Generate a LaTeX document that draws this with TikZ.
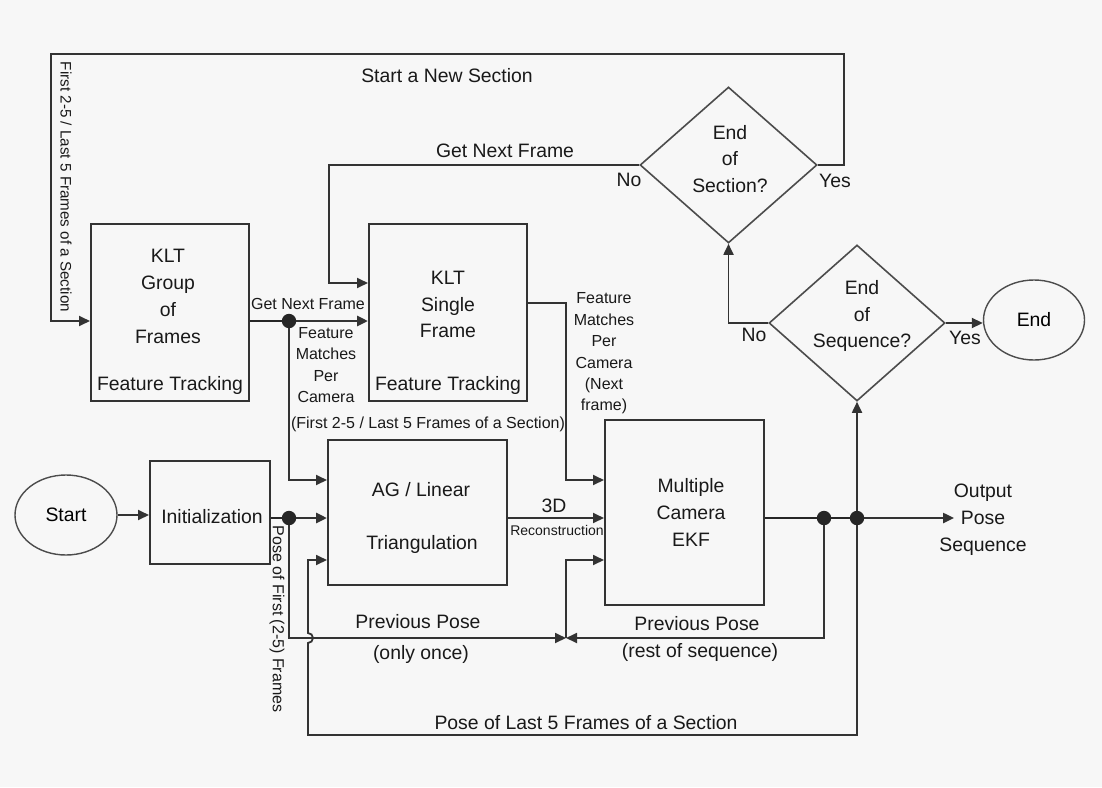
\documentclass[tikz,border=0pt]{standalone}
\usepackage{fontspec}
\setmainfont{Liberation Sans}
\usetikzlibrary{arrows.meta,positioning,shapes.geometric}
\newcommand{\mainfs}{\fontsize{9.7}{13.4}\selectfont}
\newcommand{\smallfs}{\fontsize{8}{10.6}\selectfont}
\newcommand{\tinyfs}{\fontsize{7}{8}\selectfont}
\tikzset{
  procbox/.style={draw=black!80, line width=1pt, rectangle, inner sep=0pt, fill=none},
  decision/.style={draw=black!70, line width=0.8pt, diamond, inner sep=0pt, fill=none},
  terminal/.style={draw=black!70, line width=0.7pt, ellipse, inner sep=0pt, font=\mainfs},
  txt/.style={inner sep=0pt, align=center, text=black!90, font=\mainfs},
  smalltxt/.style={inner sep=0pt, align=center, text=black!90, font=\smallfs},
  flow/.style={-{Triangle[length=5.5pt,width=5pt]}, line width=0.9pt, draw=black!80},
  mainline/.style={line width=1.4pt, draw=black!85}
}
\begin{document}
\begin{tikzpicture}[x=0.5pt, y=-0.5pt]
  \fill[black!3] (0,0) rectangle (1102,787);

  \node[procbox, minimum width=79pt, minimum height=88.5pt] (grp) at (170,312.5) {};
  \node[procbox, minimum width=79pt, minimum height=88.5pt] (sgl) at (448,312.5) {};
  \node[procbox, minimum width=60pt, minimum height=51.5pt] (ini) at (210,512.5) {};
  \node[procbox, minimum width=89.5pt, minimum height=72.5pt] (tri) at (417.5,512.5) {};
  \node[procbox, minimum width=79.5pt, minimum height=92.5pt] (ekf) at (684.5,512.5) {};
  \node[terminal, minimum width=51pt, minimum height=40pt] (start) at (66,515) {Start};
  \node[terminal, minimum width=50.5pt, minimum height=40pt] (endn) at (1034,320) {End};
  \node[decision, minimum width=88.5pt, minimum height=78pt] (secq) at (728.5,165) {};
  \node[decision, minimum width=88pt, minimum height=78pt] (seqq) at (857,323) {};

  \node[txt] (grp-t) at (168,296.5) {KLT\\Group\\of\\Frames};
  \node[txt] (grp-b) at (170,385) {Feature Tracking};
  \node[txt] (sgl-t) at (448,304.5) {KLT\\Single\\Frame};
  \node[txt] (sgl-b) at (448,385) {Feature Tracking};
  \node[txt] (ini-t) at (212,517) {Initialization};
  \node[txt] (tri-t) at (421,490) {AG / Linear};
  \node[txt] (tri-b) at (422,544) {Triangulation};
  \node[txt] (ekf-t) at (691,512.5) {Multiple\\Camera\\EKF};
  \node[txt] (secq-t) at (730,159) {End\\of\\Section?};
  \node[txt] (seqq-t) at (862,316) {End\\of\\Sequence?};
  \node[txt] (outp) at (983,520) {Output\\Pose\\Sequence};

  \coordinate (d1) at (289,321);
  \coordinate (d2) at (289,518);
  \coordinate (d3) at (824,518);
  \coordinate (d4) at (857,518);
  \coordinate (ctr) at (844,54);
  \coordinate (ctl) at (51,54);
  \coordinate (gnf) at (329,283);
  \coordinate (fmn) at (566,303);
  \coordinate (yfm) at (0,480);
  \coordinate (ypp) at (0,560);
  \coordinate (ppj) at (566,638);
  \coordinate (plb) at (308,735);
  \coordinate (hopb) at (308,643);
  \coordinate (outtip) at (954,518);

  \draw[flow] (secq.east) -| (ctr) -- (ctl) |- (grp.west |- d1);
  \draw[mainline] (grp.east |- d1) -- (d1);
  \draw[flow, line width=1.4pt] (d1) -- (sgl.west |- d1);
  \draw[flow] (secq.west) -| (gnf) -- (sgl.west |- gnf);
  \draw[flow] (d1) |- (tri.west |- yfm);
  \draw[flow] (sgl.east |- fmn) -- (fmn) |- (ekf.west |- yfm);
  \draw[flow] (start.east) -- (ini.west |- start.east);
  \draw[mainline] (ini.east |- d2) -- (d2);
  \draw[flow, line width=1.4pt] (d2) -- (tri.west |- d2);
  \draw[flow] (tri.east |- d2) -- (ekf.west |- d2);
  \draw[flow] (d2) |- (ppj);
  \draw[flow] (d3) |- (ppj);
  \draw[flow] (ppj) |- (ekf.west |- ypp);
  \draw[flow] (d4) |- (plb) -- (hopb) arc[start angle=-90, end angle=90, radius=2.5pt] |- (tri.west |- ypp);
  \draw[mainline] (ekf.east |- d2) -- (d3) -- (d4);
  \draw[flow, line width=1.2pt] (d4) -- (outtip);
  \draw[flow] (d4) -- (seqq.south);
  \draw[flow] (seqq.west) -| (secq.south);
  \draw[flow] (seqq.east) -- (endn.west |- seqq.east);

  \foreach \d in {d1,d2,d3,d4}
    \fill[black!85] (\d) circle[radius=3.6pt];

  \node[txt] (l-new) at (447,76) {Start a New Section};
  \node[txt, font=\fontsize{7.6}{9}\selectfont, rotate=-90] (l-first) at (66,187) {First 2-5 / Last 5 Frames of a Section};
  \node[txt] (l-gnf) at (505,151) {Get Next Frame};
  \node[txt] (l-no1) at (629,180) {No};
  \node[txt] (l-yes1) at (835,181) {Yes};
  \node[txt] (l-no2) at (754,335) {No};
  \node[txt] (l-yes2) at (965,338) {Yes};
  \node[smalltxt] (l-gnf2) at (308,304) {Get Next Frame};
  \node[smalltxt] (l-fm) at (326,365) {Feature\\Matches\\Per\\Camera};
  \node[smalltxt] (l-fmsec) at (428,424) {(First 2-5 / Last 5 Frames of a Section)};
  \node[smalltxt, font=\fontsize{8}{10.7}\selectfont] (l-fmn) at (604,353.5) {Feature\\Matches\\Per\\Camera\\(Next\\frame)};
  \node[txt] (l-3d) at (554,506) {3D};
  \node[txt, font=\tinyfs] (l-rec) at (557,530) {Reconstruction};
  \node[smalltxt, rotate=-90] (l-pfirst) at (277,619) {Pose of First (2-5) Frames};
  \node[txt] (l-pp1) at (418,622) {Previous Pose};
  \node[txt] (l-once) at (421,654) {(only once)};
  \node[txt] (l-pp2) at (697,624) {Previous Pose};
  \node[txt] (l-rest) at (700,652) {(rest of sequence)};
  \node[txt] (l-plast) at (586,723) {Pose of Last 5 Frames of a Section};
\end{tikzpicture}
\end{document}
